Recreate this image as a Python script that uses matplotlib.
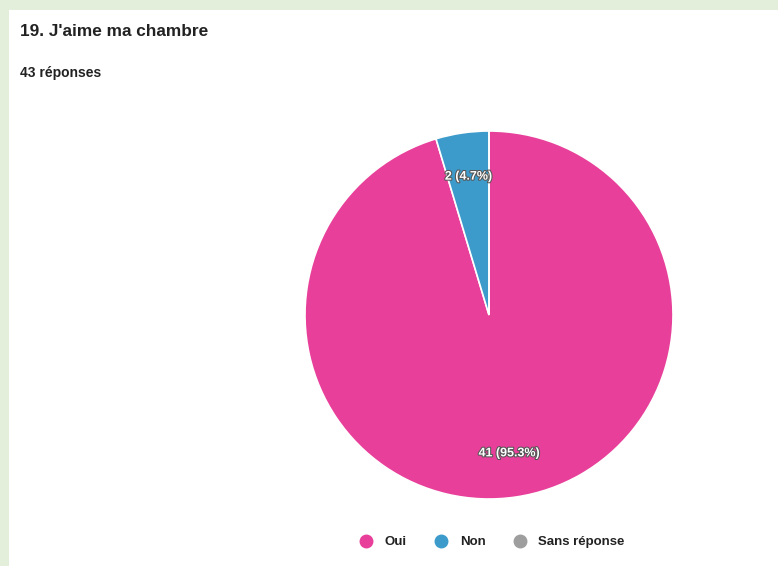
import matplotlib
matplotlib.use("Agg")
import matplotlib.pyplot as plt
import matplotlib.patheffects as pe
from matplotlib.lines import Line2D
from matplotlib.patches import Rectangle

plt.rcParams['font.family'] = ['Liberation Sans', 'DejaVu Sans']

# donnees
categories = ["Oui", "Non", "Sans réponse"]
counts = [41, 2, 0]
colors = ["#e8409a", "#3d9bcb", "#9e9e9e"]
total = sum(counts)

W, H = 778, 566
fig = plt.figure(figsize=(W / 100, H / 100), dpi=100)
fig.patch.set_facecolor("#e3efdb")
fig.patches.append(Rectangle((9 / W, 0), 1, 1 - 10 / H, transform=fig.transFigure,
                             facecolor="white", edgecolor="none", zorder=-10))

fig.text(20 / W, 1 - 32 / H, "19. J'aime ma chambre", fontsize=12.4, fontweight="bold",
         color="#222222", va="center", ha="left")
fig.text(20 / W, 1 - 73 / H, f"{total} réponses", fontsize=10, fontweight="bold",
         color="#222222", va="center", ha="left")

# pie : centre (489, 315), rayon 184 px
cx, cy, r = 489, 315, 184
ax = fig.add_axes([(cx - r) / W, 1 - (cy + r) / H, 2 * r / W, 2 * r / H])


def fmt(p):
    if p <= 0:
        return ""
    n = round(p * total / 100)
    return f"{n} ({p:.1f}%)"


wedges, texts, autotexts = ax.pie(counts, colors=colors, startangle=90, counterclock=False,
                                  autopct=fmt, pctdistance=0.76,
                                  wedgeprops=dict(edgecolor="white", linewidth=1.2))
for t in autotexts:
    t.set_color("white")
    t.set_fontsize(9)
    t.set_fontweight("bold")
    t.set_path_effects([pe.withStroke(linewidth=1.5, foreground="#555555")])
ax.set_aspect("equal")
ax.set_xlim(-1, 1)
ax.set_ylim(-1, 1)
ax.axis("off")

handles = [Line2D([], [], marker="o", linestyle="none", markersize=9,
                  markerfacecolor=c, markeredgecolor=c) for c in colors]
fig.legend(handles, categories, loc="center", ncol=3, frameon=False,
           bbox_to_anchor=(489 / W, 1 - 542 / H),
           prop=dict(weight="bold", size=9.5), handletextpad=0.4, columnspacing=1.6,
           labelcolor="#222222")

fig.savefig("out.png", dpi=100, facecolor=fig.get_facecolor())
